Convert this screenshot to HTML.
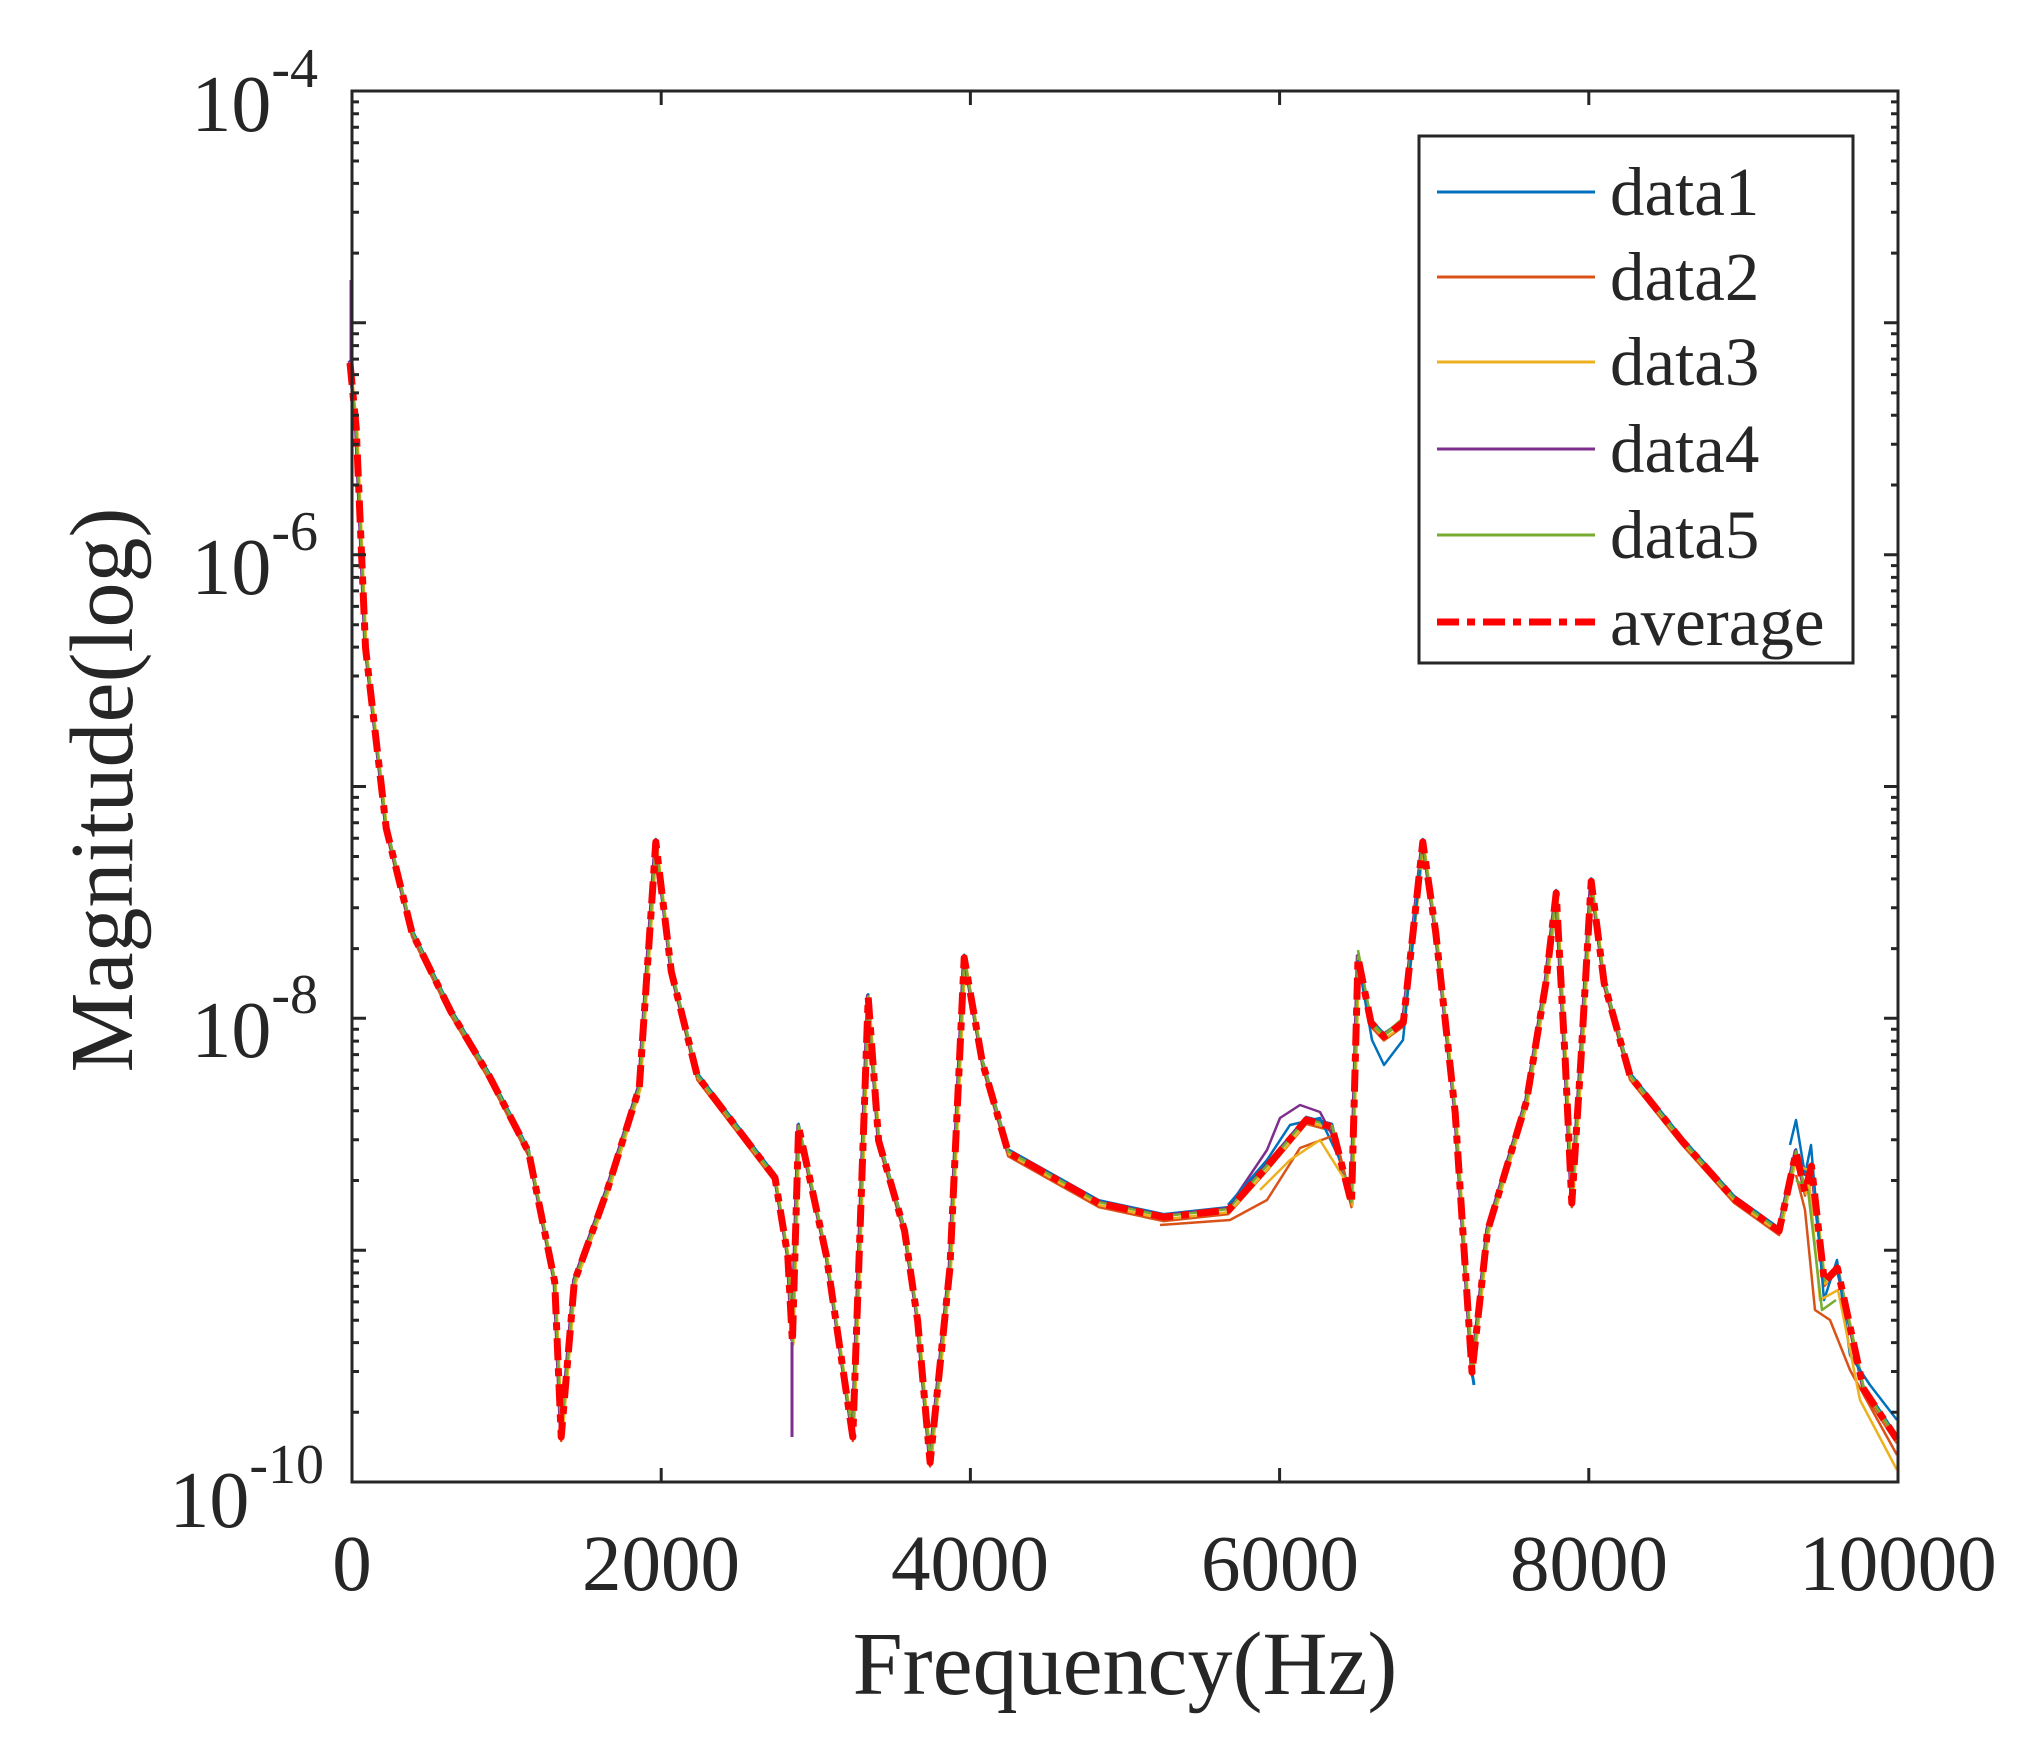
<!DOCTYPE html>
<html><head><meta charset="utf-8"><style>html,body{margin:0;padding:0;background:#fff}svg{display:block}</style></head>
<body>
<svg width="2030" height="1741" viewBox="0 0 2030 1741" xmlns="http://www.w3.org/2000/svg" font-family="Liberation Serif, serif">
<defs>
<path id="avg" d="M350 362.9L356.2 427.7L365.5 647.6L386.2 828.2L411.9 932.3L450.6 1011.1L489.2 1075.9L528.7 1152.3L554.7 1281.9L561.2 1437L574.3 1281.9L606.8 1191.6L639.3 1087.5L655.8 842L671.3 971.7L697.3 1075.9L775 1177.7L787.8 1256.4L792.4 1342.1L798.6 1126.8L807.1 1166.2L826.5 1256.4L852.8 1437L868.2 997.2L878.6 1140.7L904.6 1231L917.7 1321.3L930.1 1462.5L949.9 1268L964.2 957.8L982.3 1062L1008.2 1152.3L1098.9 1203.2L1163.7 1217.1L1228.4 1210.1L1267.4 1166.2L1306.2 1119.9L1332 1126.8L1345 1177.7L1351.5 1203.2L1358 957.8L1371 1022.6L1383.9 1036.5L1403.3 1022.6L1422.8 842L1435.7 932.3L1455.2 1112.9L1472 1372.2L1487.5 1231L1526.5 1101.3L1545.8 983.3L1556.2 893L1565.3 1062L1571.8 1203.2L1580.8 1062L1591.2 881.4L1604.2 983.3L1630.1 1075.9L1682 1140.7L1733.8 1198.6L1779.1 1231L1796 1152.3L1805 1191.6L1811.5 1166.2L1824.4 1281.9L1837.4 1268L1863.3 1388.4L1897 1439.3"/>
<g id="dec" stroke="#262626" stroke-width="3">
<path d="M352 0h14M352 -69.7h7M352 -110.5h7M352 -139.4h7M352 -161.8h7M352 -180.1h7M352 -195.6h7M352 -209.1h7M352 -220.9h7M1898 0h-14M1898 -69.7h-7M1898 -110.5h-7M1898 -139.4h-7M1898 -161.8h-7M1898 -180.1h-7M1898 -195.6h-7M1898 -209.1h-7M1898 -220.9h-7"/>
</g>
</defs>
<rect width="2030" height="1741" fill="#fff"/>
<g fill="none" stroke-width="2.5" stroke-linejoin="round">
<use href="#avg" stroke="#0072BD" transform="translate(0,-3)"/>
<use href="#avg" stroke="#D95319" transform="translate(0,4)"/>
<use href="#avg" stroke="#EDB120" transform="translate(1,2)"/>
<use href="#avg" stroke="#7E2F8E" transform="translate(-1,-2)"/>
<use href="#avg" stroke="#77AC30" transform="translate(0,-1)"/>
<path d="M1228 1208L1267 1150L1280 1118L1300 1105L1320 1112L1340 1150" stroke="#7E2F8E"/>
<path d="M1228 1205L1267 1160L1290 1125L1320 1118L1340 1160" stroke="#0072BD"/>
<path d="M1160 1225L1230 1220L1267 1200L1300 1148L1335 1135L1345 1175" stroke="#D95319"/>
<path d="M1260 1190L1290 1160L1320 1140L1345 1180" stroke="#EDB120"/>
<path d="M1358 960L1372 1040L1384 1065L1403 1040L1420 870" stroke="#0072BD"/>
<path d="M1358 950L1372 1025L1384 1035L1403 1018" stroke="#77AC30"/>
<path d="M1790 1145L1796 1120L1805 1175L1811 1145L1824 1300L1837 1260L1850 1355L1870 1385L1897 1420" stroke="#0072BD"/>
<path d="M1796 1175L1805 1210L1815 1310L1830 1320L1850 1370L1897 1455" stroke="#D95319"/>
<path d="M1796 1165L1808 1170L1820 1300L1838 1290L1860 1400L1897 1470" stroke="#EDB120"/>
<path d="M1796 1180L1808 1190L1822 1310L1836 1300" stroke="#77AC30"/>
<path d="M792 1342L792 1437" stroke="#7E2F8E" stroke-width="3"/>
<path d="M351 365L351 280" stroke="#7E2F8E" stroke-width="3"/>
<path d="M1472 1372L1474 1385" stroke="#0072BD" stroke-width="3"/>
</g>
<use href="#avg" fill="none" stroke="#FF0000" stroke-width="7" stroke-dasharray="22 8 8 8" stroke-linejoin="round"/>
<g stroke="#262626" fill="none" stroke-width="3">
<rect x="352" y="91" width="1546" height="1391"/>
<path d="M352 1482v-14M661.2 1482v-14M970.4 1482v-14M1279.6 1482v-14M1588.8 1482v-14M352 91v14M661.2 91v14M970.4 91v14M1279.6 91v14M1588.8 91v14"/>
</g>
<use href="#dec" transform="translate(0,1482)"/>
<use href="#dec" transform="translate(0,1250.2)"/>
<use href="#dec" transform="translate(0,1018.3)"/>
<use href="#dec" transform="translate(0,786.5)"/>
<use href="#dec" transform="translate(0,554.7)"/>
<use href="#dec" transform="translate(0,322.8)"/>
<g fill="#262626" font-size="80" text-anchor="end">
<text x="318" y="131">10<tspan font-size="56" dy="-44">-4</tspan></text>
<text x="318" y="594">10<tspan font-size="56" dy="-44">-6</tspan></text>
<text x="318" y="1057">10<tspan font-size="56" dy="-44">-8</tspan></text>
<text x="324" y="1527">10<tspan font-size="56" dy="-44">-10</tspan></text>
</g>
<g fill="#262626" font-size="79" text-anchor="middle">
<text x="352" y="1590">0</text>
<text x="661" y="1590">2000</text>
<text x="970" y="1590">4000</text>
<text x="1280" y="1590">6000</text>
<text x="1589" y="1590">8000</text>
<text x="1898" y="1590">10000</text>
<text x="1125" y="1694" font-size="90">Frequency(Hz)</text>
<text transform="translate(132,790) rotate(-90)" font-size="90">Magnitude(log)</text>
</g>
<rect x="1419" y="136" width="434" height="527" fill="#fff" stroke="#262626" stroke-width="3"/>
<g stroke-width="3">
<line x1="1437" y1="192" x2="1595" y2="192" stroke="#0072BD"/>
<line x1="1437" y1="277" x2="1595" y2="277" stroke="#D95319"/>
<line x1="1437" y1="362" x2="1595" y2="362" stroke="#EDB120"/>
<line x1="1437" y1="449" x2="1595" y2="449" stroke="#7E2F8E"/>
<line x1="1437" y1="535" x2="1595" y2="535" stroke="#77AC30"/>
<line x1="1437" y1="622" x2="1595" y2="622" stroke="#FF0000" stroke-width="7" stroke-dasharray="22 8 8 8"/>
</g>
<g fill="#262626" font-size="69">
<text x="1610" y="215">data1</text>
<text x="1610" y="300">data2</text>
<text x="1610" y="385">data3</text>
<text x="1610" y="472">data4</text>
<text x="1610" y="558">data5</text>
<text x="1610" y="645">average</text>
</g>
</svg>
</body></html>
